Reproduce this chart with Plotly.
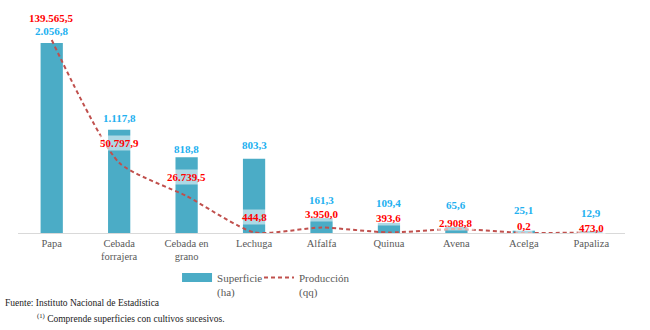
import plotly.graph_objects as go

categorias = ["Papa", "Cebada<br>forrajera", "Cebada en<br>grano", "Lechuga", "Alfalfa",
              "Quinua", "Avena", "Acelga", "Papaliza"]
superficie_ha = [2056.8, 1117.8, 818.8, 803.3, 161.3, 109.4, 65.6, 25.1, 12.9]
produccion_qq = [139565.5, 50797.9, 26739.5, 444.8, 3950.0, 393.6, 2908.8, 0.2, 473.0]


def fmt_es(v):
    s = f"{v:,.1f}"
    return s.replace(",", "X").replace(".", ",").replace("X", ".")


BAR = "#4BACC6"
LINE = "#C0504D"
BLUE_TXT = "#22B0F0"
RED_TXT = "#FF0000"
SERIF = "Liberation Serif, Times New Roman, serif"

# label offsets (pixels above the mark), as placed in the original layout
blue_shift = [12, 12, 8, 14, 18, 20, 22, 21, 19]
red_shift = [22, 20, 19, 15, 14, 14, 6, 7, 4]

fig = go.Figure()
fig.add_trace(go.Bar(
    x=categorias, y=superficie_ha, name="Superficie<br>(ha)",
    marker=dict(color=BAR, line=dict(width=0)),
    showlegend=False,
))
# legend swatch for bars (wide rectangle like the original)
fig.add_trace(go.Scatter(
    x=[None], y=[None], mode="lines", name="Superficie<br>(ha)",
    line=dict(color=BAR, width=9), legend="legend",
))
fig.add_trace(go.Scatter(
    x=categorias, y=produccion_qq, name="Producción<br>(qq)", yaxis="y2",
    mode="lines", line=dict(color=LINE, width=2, dash="4px,3px", shape="spline", smoothing=0.6),
    cliponaxis=False, legend="legend2",
))

annotations = []
for i, (c, v) in enumerate(zip(categorias, superficie_ha)):
    annotations.append(dict(
        x=c, y=v, xref="x", yref="y", text="<b>" + fmt_es(v) + "</b>",
        showarrow=False, yanchor="middle", yshift=blue_shift[i],
        font=dict(family=SERIF, size=11, color=BLUE_TXT),
    ))
for i, (c, v) in enumerate(zip(categorias, produccion_qq)):
    annotations.append(dict(
        x=c, y=v, xref="x", yref="y2", text="<b>" + fmt_es(v) + "</b>",
        showarrow=False, yanchor="middle", yshift=red_shift[i],
        font=dict(family=SERIF, size=11, color=RED_TXT),
        bgcolor="rgba(255,255,255,0.55)", borderpad=1,
    ))

annotations.append(dict(
    x=-0.025, y=-0.31, xref="paper", yref="paper", xanchor="left", yanchor="middle",
    text="Fuente: Instituto Nacional de Estadística", showarrow=False,
    font=dict(family=SERIF, size=9.5, color="#222222"),
))
annotations.append(dict(
    x=0.028, y=-0.378, xref="paper", yref="paper", xanchor="left", yanchor="middle",
    text="<sup>(1)</sup> Comprende superficies con cultivos sucesivos.", showarrow=False,
    font=dict(family=SERIF, size=9.5, color="#222222"),
))

legend_common = dict(orientation="h", xanchor="left", y=-0.137, yanchor="top",
                     valign="top", font=dict(family=SERIF, size=11, color="#595959"),
                     bgcolor="rgba(0,0,0,0)")

fig.update_layout(
    width=650, height=330,
    margin=dict(l=18, r=25, t=8, b=97, autoexpand=False),
    paper_bgcolor="white", plot_bgcolor="white",
    separators=",.",
    bargap=0.67,
    font=dict(family=SERIF, size=11, color="#595959"),
    xaxis=dict(showline=True, linecolor="#D9D9D9", linewidth=1, ticks="",
               automargin=False,
               tickfont=dict(family=SERIF, size=10.5, color="#595959")),
    yaxis=dict(visible=False, range=[0, 2436], showgrid=False, automargin=False),
    yaxis2=dict(visible=False, range=[0, 162700], overlaying="y", showgrid=False, automargin=False),
    legend=dict(x=0.262, **legend_common),
    legend2=dict(x=0.397, **legend_common),
    annotations=annotations,
)
fig.write_html("out.html", config={"displayModeBar": False},
               post_script="document.body.style.margin='0';")
